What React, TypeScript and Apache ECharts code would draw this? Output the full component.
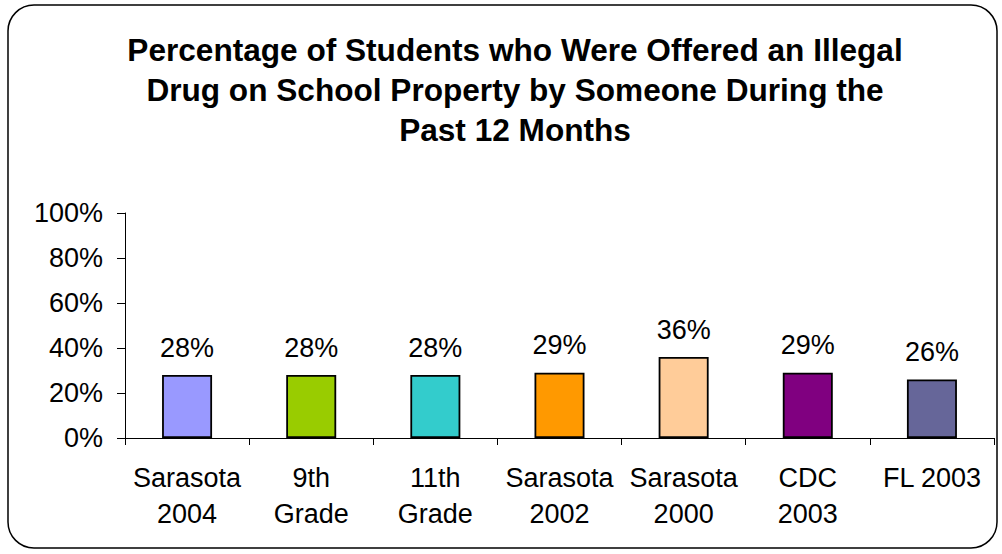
import React, { useEffect, useRef } from "react";
import * as echarts from "echarts";

const titleText =
  "Percentage of Students who Were Offered an Illegal\nDrug on School Property by Someone During the\nPast 12 Months";
const categories = [
  "Sarasota\n2004",
  "9th\nGrade",
  "11th\nGrade",
  "Sarasota\n2002",
  "Sarasota\n2000",
  "CDC\n2003",
  "FL 2003",
];
const values = [28, 28, 28, 29, 36, 29, 26];
const barColors = ["#9999FF", "#99CC00", "#33CCCC", "#FF9900", "#FFCC99", "#800080", "#666699"];
const yTicks = { min: 0, max: 100, interval: 20 };

const FONT = "Liberation Sans, Arial, sans-serif";

export default function App() {
  const ref = useRef<HTMLDivElement>(null);
  useEffect(() => {
    document.body.style.margin = "0";
    if (!ref.current) return;
    const chart = echarts.init(ref.current, null, { renderer: "svg" });
    chart.setOption({
      animation: false,
      backgroundColor: "#fff",
      title: {
        text: titleText,
        left: 510,
        top: 25,
        textAlign: "center",
        textStyle: {
          fontFamily: FONT,
          fontSize: 31.6,
          fontWeight: "bold",
          lineHeight: 40,
          color: "#000",
        },
      },
      graphic: [
        {
          type: "rect",
          shape: { x: 8, y: 5, width: 989, height: 543, r: 26 },
          style: { fill: "none", stroke: "#000", lineWidth: 1.5 },
          silent: true,
          z: 0,
        },
      ],
      grid: { left: 125, right: 8, top: 213, bottom: 116 },
      xAxis: {
        type: "category",
        data: categories,
        axisLine: { lineStyle: { color: "#000", width: 1 } },
        axisTick: { show: true, alignWithLabel: false, length: 7, lineStyle: { color: "#000" } },
        axisLabel: {
          interval: 0,
          fontFamily: FONT,
          fontSize: 27,
          lineHeight: 36,
          color: "#000",
          margin: 22,
        },
      },
      yAxis: {
        type: "value",
        min: yTicks.min,
        max: yTicks.max,
        interval: yTicks.interval,
        splitLine: { show: false },
        axisLine: { show: true, lineStyle: { color: "#000", width: 1 } },
        axisTick: { show: true, length: 8, lineStyle: { color: "#000" } },
        axisLabel: {
          fontFamily: FONT,
          fontSize: 27,
          color: "#000",
          margin: 22,
          formatter: "{value}%",
        },
      },
      series: [
        {
          type: "bar",
          data: values.map((v, i) => ({ value: v, itemStyle: { color: barColors[i] } })),
          barWidth: 50,
          itemStyle: { borderColor: "#000", borderWidth: 1.8 },
          label: {
            show: true,
            position: "top",
            distance: 14,
            formatter: "{c}%",
            fontFamily: FONT,
            fontSize: 27,
            color: "#000",
          },
        },
      ],
    });
    return () => chart.dispose();
  }, []);
  return <div ref={ref} style={{ width: 1002, height: 554 }} />;
}
